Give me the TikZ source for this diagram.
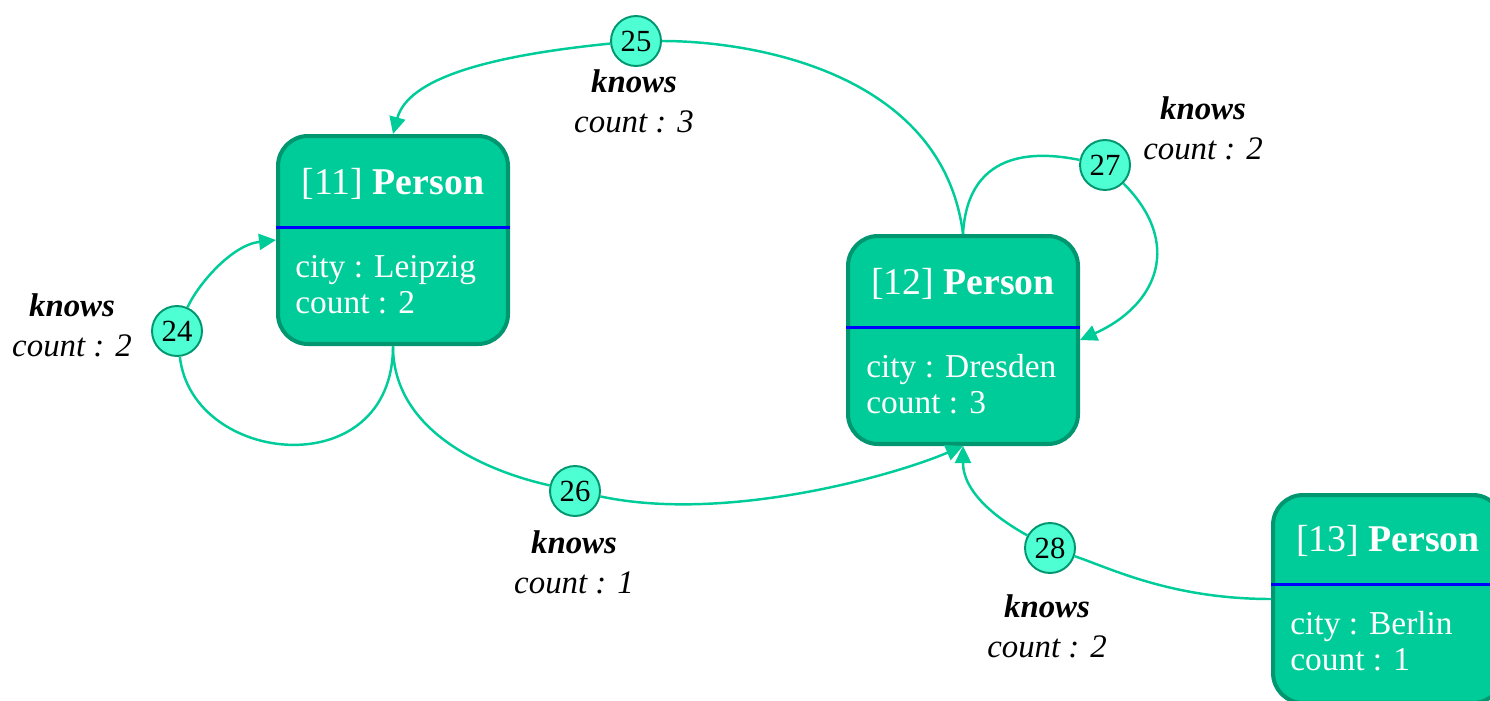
\documentclass[tikz,border=0pt]{standalone}
\usepackage{fontspec}
\setmainfont{Liberation Serif}
\usetikzlibrary{arrows.meta}
\definecolor{nodegreen}{RGB}{0, 204, 153}
\definecolor{borderdark}{RGB}{0, 150, 112}
\definecolor{edgegreen}{RGB}{0, 204, 153}
\definecolor{circlefill}{RGB}{77, 255, 210}
\definecolor{divblue}{RGB}{0, 0, 255}

\begin{document}
\begin{tikzpicture}[x=0.02cm, y=-0.02cm,
  person/.style={draw=borderdark, line width=2.3pt, fill=nodegreen, rounded corners=0.6cm,
                 minimum width=4.6cm, minimum height=4.16cm, inner sep=0pt},
  ptitle/.style={text=white, font=\fontsize{21.5}{26}\selectfont, anchor=base, inner sep=0pt},
  pattr/.style={text=white, font=\fontsize{19}{23}\selectfont, anchor=base west, inner sep=0pt},
  divline/.style={divblue, line width=1.7pt},
  eid/.style={circle, draw=borderdark, line width=1.1pt, fill=circlefill, minimum size=1cm,
              inner sep=0pt, font=\fontsize{17.5}{20}\selectfont},
  elbl/.style={align=center, font=\fontsize{18.7}{22.8}\selectfont\itshape},
  rel/.style={edgegreen, line width=1.4pt},
  relarr/.style={rel, -{Triangle[length=0.34cm, width=0.32cm]}},
]
\useasboundingbox (0,0) rectangle (1490,700);

% Person nodes
\node[person] (p11) at (393,240) {};
\node[person] (p12) at (963,340) {};
\node[person] (p13) at (1388,599) {};

\draw[divline] ([yshift=0.26cm]p11.west) -- ([yshift=0.26cm]p11.east);
\draw[divline] ([yshift=0.26cm]p12.west) -- ([yshift=0.26cm]p12.east);
\draw[divline] ([yshift=0.3cm]p13.west) -- ([yshift=0.3cm]p13.east);

\node[ptitle] (t11) at (393,194) {[11] \textbf{Person}};
\node[pattr] (a11c) at (295,277) {city : Leipzig};
\node[pattr] (a11n) at (295,313) {count : 2};

\node[ptitle] (t12) at (963,294) {[12] \textbf{Person}};
\node[pattr] (a12c) at (866,377) {city : Dresden};
\node[pattr] (a12n) at (866,413) {count : 3};

\node[ptitle] (t13) at (1388,551) {[13] \textbf{Person}};
\node[pattr] (a13c) at (1290,634) {city : Berlin};
\node[pattr] (a13n) at (1290,670) {count : 1};

% Relationship ids
\node[eid] (e24) at (177,331) {24};
\node[eid] (e25) at (636,41) {25};
\node[eid] (e26) at (575,491) {26};
\node[eid] (e27) at (1105,165) {27};
\node[eid] (e28) at (1050,548) {28};

% Relationship labels
\node[elbl] (l24) at (72,325) {\textbf{knows}\\count : 2};
\node[elbl] (l25) at (634,101) {\textbf{knows}\\count : 3};
\node[elbl] (l26) at (574,562) {\textbf{knows}\\count : 1};
\node[elbl] (l27) at (1203,128) {\textbf{knows}\\count : 2};
\node[elbl] (l28) at (1047,626) {\textbf{knows}\\count : 2};

% Edges
\draw[rel] (p11.south) .. controls +(0,140) and +(15,135) .. (e24);
\draw[relarr] (e24) .. controls +(20,-45) and +(-45,5) .. (p11.west);

\draw[rel] (p12.north) .. controls +(-20,-160) and +(120,0) .. (e25);
\draw[relarr] (e25) .. controls +(-150,15) and +(15,-55) .. (p11.north);

\draw[rel] (p11.south) .. controls +(0,85) and +(-90,-20) .. (e26);
\draw[relarr] (e26) .. controls +(150,32) and +(-70,30) .. (p12.south);

\draw[rel] (p12.north) .. controls +(5,-90) and +(-60,-12) .. (e27);
\draw[relarr] (e27) .. controls +(78,78) and +(78,-35) .. (p12.east);

\draw[rel] (p13.west) .. controls +(-100,0) and +(60,20) .. (e28);
\draw[relarr] (e28) .. controls +(-45,-25) and +(0,50) .. (p12.south);
\end{tikzpicture}
\end{document}
